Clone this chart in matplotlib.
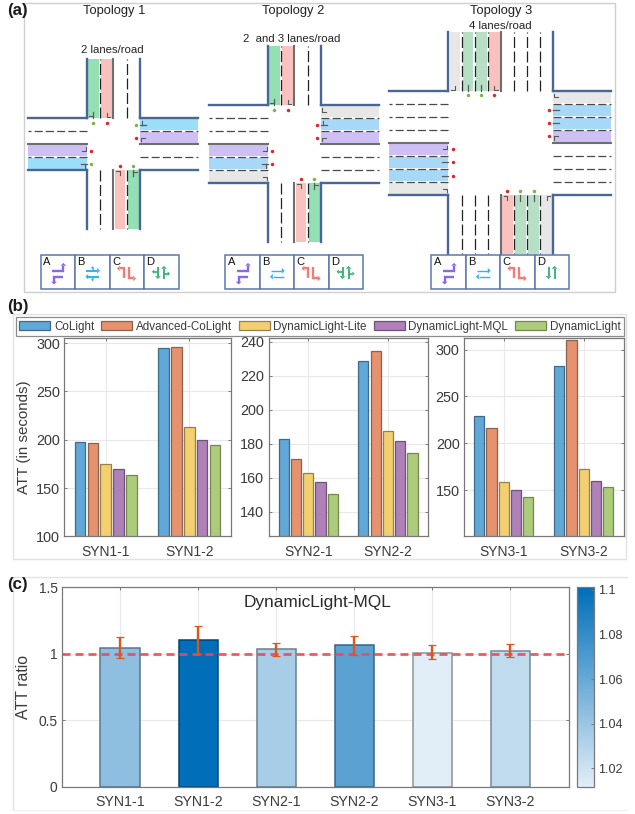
import matplotlib
matplotlib.use("Agg")
import matplotlib.pyplot as plt
from matplotlib.patches import Polygon, Rectangle, Patch
from matplotlib.colors import LinearSegmentedColormap, Normalize
from matplotlib.cm import ScalarMappable
import numpy as np

plt.rcParams['font.family'] = ['Liberation Sans', 'DejaVu Sans']
plt.rcParams['lines.scale_dashes'] = False

W, H = 635, 814

# ---- data: panel (b)
methods = ['CoLight', 'Advanced-CoLight', 'DynamicLight-Lite', 'DynamicLight-MQL', 'DynamicLight']
method_colors = ['#60A8D8', '#E6926E', '#F4CF70', '#B080B8', '#ACCC7C']
method_edges = ['#3F6A88', '#8A6350', '#94804E', '#6E5378', '#75874F']
syn1_labels = ['SYN1-1', 'SYN1-2']
syn1_vals = [[198, 294.5], [197, 296], [175, 213], [170, 200], [163.5, 195]]
syn1_ylim = (100, 305)
syn1_ticks = [100, 150, 200, 250, 300]
syn2_labels = ['SYN2-1', 'SYN2-2']
syn2_vals = [[182.5, 228.4], [171, 234.5], [162.5, 187.6], [157.2, 181.4], [150.4, 174.5]]
syn2_ylim = (125.5, 242)
syn2_ticks = [140, 160, 180, 200, 220, 240]
syn3_labels = ['SYN3-1', 'SYN3-2']
syn3_vals = [[229, 283], [216.7, 310], [158.4, 172.7], [150, 159.6], [142.5, 154]]
syn3_ylim = (101, 312)
syn3_ticks = [150, 200, 250, 300]

# ---- data: panel (c)
ratio_labels = ['SYN1-1', 'SYN1-2', 'SYN2-1', 'SYN2-2', 'SYN3-1', 'SYN3-2']
ratio_vals = [1.045, 1.1025, 1.035, 1.065, 1.01, 1.025]
ratio_low = [0.9675, 1.0, 0.9875, 0.995, 0.96, 0.9775]
ratio_high = [1.125, 1.2125, 1.08, 1.1375, 1.065, 1.0725]
ratio_ref = 1.0
ratio_range = (1.0117, 1.1012)
cbar_ticks = [1.02, 1.04, 1.06, 1.08, 1.1]

# ---- schematic (a): lanes outer->median per approach
G1, G3 = '#92E0B4', '#B6DFC6'
PK = '#FAC2BE'
BL1, BL2 = '#9BDEFA', '#A8D8F8'
VI = '#CEC0F5'
GY = '#E7E7E7'
topologies = [
    dict(c=(113.3, 144.0), hwv=26.7, hwh=26.0, L=59,
         vlanes=[('g', G1), ('p', PK)], hlanes=[('B', BL1), ('v', VI)], branch=True),
    dict(c=(294.3, 144.2), hwv=26.7, hwh=39.0, L=59,
         vlanes=[('g', G1), ('p', PK)], hlanes=[('x', GY), ('b', BL2), ('v', VI)], branch=True),
    dict(c=(500.8, 142.9), hwv=52.4, hwh=52.2, L=59,
         vlanes=[('x', GY), ('g', G3), ('g', G3), ('p', PK)],
         hlanes=[('x', GY), ('b', BL2), ('b', BL2), ('v', VI)], branch=False),
]
phase_x0 = [40.7, 225.3, 431.3]
phase_names = ['A', 'B', 'C', 'D']

px = 0.72  # points per pixel at dpi 100
fig = plt.figure(figsize=(W / 100, H / 100), dpi=100)


def axpx(l, t, r, b):
    return fig.add_axes([l / W, 1 - b / H, (r - l) / W, (b - t) / H])


ov = fig.add_axes([0, 0, 1, 1], zorder=0)
ov.set_xlim(0, W)
ov.set_ylim(H, 0)
ov.axis('off')

# panel frames
ov.add_patch(Rectangle((24, 2.7), 591, 289, fc='none', ec='#CFCFCF', lw=1))
ov.add_patch(Rectangle((13.3, 314), 612.7, 245, fc='none', ec='#E2E2E2', lw=1))
ov.plot([13.3, 13.3, 627], [810, 577.3, 577.3], color='#E2E2E2', lw=1)
ov.plot([13.3, 627], [810, 810], color='#F0F0F0', lw=1)

for s, x, y in [('(a)', 17.5, 10), ('(b)', 17.5, 306.5), ('(c)', 17.5, 584)]:
    ov.text(x, y, s, fontsize=12.2, fontweight='bold', ha='center', va='center', color='#1a1a1a', zorder=9)
for s, x, y, fs in [('Topology 1', 113.8, 11, 9.3), ('Topology 2', 293.3, 11, 9.3),
                    ('Topology 3', 500.8, 10.7, 9.3), ('2 lanes/road', 112.5, 50, 8.2),
                    ('2  and 3 lanes/road', 291.5, 39, 8.2), ('4 lanes/road', 500.7, 26, 8.2)]:
    ov.text(x, y, s, fontsize=fs, ha='center', va='center', color='#222222')


def mapper(cx, cy, k):
    if k == 0:
        return lambda u, v: (cx + u, cy - v)
    if k == 1:
        return lambda u, v: (cx - v, cy - u)
    if k == 2:
        return lambda u, v: (cx - u, cy + v)
    return lambda u, v: (cx + v, cy + u)


def pl(T, pts, **kw):
    xy = np.array([T(u, v) for u, v in pts])
    ov.plot(xy[:, 0], xy[:, 1], **kw)


def approach(cx, cy, k, hw, v0, L, lanes, branch):
    T = mapper(cx, cy, k)
    n = len(lanes)
    w = hw / n
    vertical = k in (0, 2)
    dash_col = '#222222' if vertical else '#484848'
    dash = (0, (11 * px, 3.5 * px)) if vertical else (0, (8 * px, 3.2 * px))
    for i, (kind, col) in enumerate(lanes):
        u0 = -hw + i * w
        ov.add_patch(Polygon([T(u0 + 1.2, v0), T(u0 + w - 1.2, v0), T(u0 + w - 1.2, v0 + L), T(u0 + 1.2, v0 + L)],
                             fc=col, ec='none', lw=0, zorder=1))
    for i in range(1, n):
        pl(T, [(-hw + i * w, v0), (-hw + i * w, v0 + L)], color=dash_col, lw=0.9, ls=dash, zorder=2)
        pl(T, [(i * w, v0), (i * w, v0 + L)], color=dash_col, lw=0.9, ls=dash, zorder=2)
    pl(T, [(0, v0), (0, v0 + L)], color='#6E6E6E', lw=1.5, zorder=2)
    for s in (-1, 1):
        pl(T, [(s * hw, v0), (s * hw, v0 + L)], color='#4A6699', lw=1.7, zorder=3,
           solid_capstyle='projecting')
    # stop-line glyphs and signal dots
    for i, (kind, col) in enumerate(lanes):
        uc = -hw + (i + 0.5) * w
        gc = '#5A5A5A'
        if kind == 'x':
            pl(T, [(uc, v0 + 5), (uc, v0 + 1), (uc - 3.5, v0 + 1)], color=gc, lw=0.8, zorder=4)
            continue
        if kind in ('p', 'v'):
            pl(T, [(uc, v0 + 5), (uc, v0 + 1), (uc + 3.5, v0 + 1)], color=gc, lw=0.8, zorder=4)
        else:
            pl(T, [(uc, v0 + 6), (uc, v0)], color=gc, lw=0.9, zorder=4)
            if branch:
                pl(T, [(uc, v0 + 2), (uc - 4, v0 + 2)], color=gc, lw=0.8, zorder=4)
        dot = '#7CB342' if kind in ('g', 'B') else '#E8202A'
        x, y = T(uc, v0 - 4.5)
        ov.plot([x], [y], marker='o', ms=2.5, color=dot, mew=0, zorder=4)


for t in topologies:
    cx, cy = t['c']
    approach(cx, cy, 0, t['hwv'], t['hwh'], t['L'], t['vlanes'], t['branch'])
    approach(cx, cy, 2, t['hwv'], t['hwh'], t['L'], t['vlanes'], t['branch'])
    approach(cx, cy, 1, t['hwh'], t['hwv'], t['L'], t['hlanes'], t['branch'])
    approach(cx, cy, 3, t['hwh'], t['hwv'], t['L'] - 1, t['hlanes'], t['branch'])


def arrow(x0, y0, pts, col, lw=1.5, head=3.5):
    p = np.array(pts, float) + [x0, y0]
    ov.plot(p[:, 0], p[:, 1], color=col, lw=lw, zorder=8, solid_joinstyle='miter', solid_capstyle='butt')
    d = p[-1] - p[-2]
    d = d / np.hypot(*d)
    n = np.array([-d[1], d[0]])
    tip = p[-1] + d * head * 0.8
    ov.add_patch(Polygon([tip, p[-1] + n * head * 0.8, p[-1] - n * head * 0.8], fc=col, ec='none', zorder=8))


CELL_W, CELL_H, CELL_T = 34.5, 34.6, 254.7
PURPLE, CYAN, SALMON, GREEN = '#8A66F0', '#2FB2F5', '#F47C78', '#33B06E'
for idx, x0 in enumerate(phase_x0):
    for j, nm in enumerate(phase_names):
        xc = x0 + j * CELL_W
        ov.add_patch(Rectangle((xc, CELL_T), CELL_W, CELL_H, fc='white', ec='#5C78AC', lw=1.1, zorder=7))
        ov.text(xc + 2.2, CELL_T + 7.5, nm, fontsize=8, ha='left', va='center', color='#111111', zorder=8)
    arrow(x0, CELL_T, [(11.7, 16), (22.7, 16), (22.7, 11)], PURPLE, lw=1.7)
    arrow(x0, CELL_T, [(22.7, 22.7), (13.3, 22.7), (13.3, 27)], PURPLE, lw=1.7)
    xb = x0 + CELL_W
    arrow(xb, CELL_T, [(11, 16), (22, 16)], CYAN, lw=1.4 if idx == 0 else 1.0)
    arrow(xb, CELL_T, [(24, 22), (13, 22)], CYAN, lw=1.4 if idx == 0 else 1.0)
    if idx == 0:
        arrow(xb, CELL_T, [(17.3, 16), (17.3, 13.5)], CYAN, lw=1.1, head=2.4)
        arrow(xb, CELL_T, [(17.3, 22), (17.3, 24.5)], CYAN, lw=1.1, head=2.4)
    xc = x0 + 2 * CELL_W
    arrow(xc, CELL_T, [(14, 23.7), (14, 13.7), (10, 13.7)], SALMON, lw=1.7)
    arrow(xc, CELL_T, [(19, 12), (19, 23.7), (23.5, 23.7)], SALMON, lw=1.7)
    xd = x0 + 3 * CELL_W
    arrow(xd, CELL_T, [(13.7, 12), (13.7, 21.5)], GREEN, lw=1.3)
    arrow(xd, CELL_T, [(19.7, 24), (19.7, 14)], GREEN, lw=1.3)
    if idx < 2:
        arrow(xd, CELL_T, [(13.7, 17), (10, 17)], GREEN, lw=1.2, head=2.8)
        arrow(xd, CELL_T, [(19.7, 19), (23.5, 19)], GREEN, lw=1.2, head=2.8)

TXT = '#3A3A3A'
SP = '#787878'


def style(ax, tsize):
    for s in ax.spines.values():
        s.set_color(SP)
        s.set_linewidth(0.9)
    ax.tick_params(direction='in', length=2.4, width=0.7, color=SP, top=True, right=True,
                   labelsize=tsize, labelcolor=TXT, pad=3)
    ax.grid(True, color='#E8E8E8', lw=0.8)
    ax.set_axisbelow(True)


def grouped(box, labels, vals, ylim, ticks):
    ax = axpx(*box)
    x = np.arange(1, len(labels) + 1)
    step, bw = 0.154, 0.128
    for i, series in enumerate(vals):
        ax.bar(x + (i - 2) * step, series, bw, color=method_colors[i], edgecolor=method_edges[i], linewidth=0.9)
    ax.set_xlim(0.5, 2.5)
    ax.set_ylim(*ylim)
    ax.set_xticks(x, labels)
    ax.set_yticks(ticks)
    style(ax, 10.4)
    ax.tick_params(axis='x', labelsize=10, pad=6)
    return ax


a1 = grouped((64, 338.3, 231, 536.3), syn1_labels, syn1_vals, syn1_ylim, syn1_ticks)
a2 = grouped((268.5, 338.3, 427.7, 536.3), syn2_labels, syn2_vals, syn2_ylim, syn2_ticks)
a3 = grouped((463.7, 338.3, 623.7, 536.3), syn3_labels, syn3_vals, syn3_ylim, syn3_ticks)
a1.set_ylabel('ATT (in seconds)', fontsize=10.9, color=TXT, va='center')
a1.yaxis.set_label_coords((24 - 64) / 167, 0.5)

handles = [Patch(facecolor=c, edgecolor=e, linewidth=0.9, label=m)
           for c, e, m in zip(method_colors, method_edges, methods)]
leg = fig.legend(handles=handles, ncols=5, loc='center', bbox_to_anchor=(320 / W, 1 - 326.7 / H),
                 bbox_transform=fig.transFigure, fontsize=8.4, frameon=True, fancybox=False,
                 edgecolor='#8C8C8C', framealpha=1, handlelength=2.66, handleheight=0.83,
                 handletextpad=0.3, columnspacing=0.6, borderpad=0.3, borderaxespad=0)
leg.get_frame().set_linewidth(0.9)
for tx in leg.get_texts():
    tx.set_color(TXT)

# panel (c)
cmap = LinearSegmentedColormap.from_list('att', ['#E2EEF7', '#006EB9'])
norm = Normalize(*ratio_range)
ac = axpx(61.7, 587.3, 569.3, 787)
xs = np.arange(1, len(ratio_vals) + 1)
vals = np.array(ratio_vals)
faces = cmap(norm(vals))
edges = faces.copy()
edges[:, :3] *= 0.62
ac.bar(xs, vals, 0.5, color=faces, edgecolor=edges, linewidth=1.1, zorder=2)
ac.axhline(ratio_ref, color='#F9454B', lw=2.0, alpha=0.9, ls=(0, (8 * px, 5 * px)), zorder=3)
ac.errorbar(xs, vals, yerr=[vals - np.array(ratio_low), np.array(ratio_high) - vals], fmt='none',
            ecolor='#E2541E', elinewidth=1.7, capsize=2.8, capthick=0.9, zorder=4)
ac.set_xlim(0.253, 6.756)
ac.set_ylim(0, 1.5)
ac.set_xticks(xs, ratio_labels)
ac.set_yticks([0, 0.5, 1, 1.5], ['0', '0.5', '1', '1.5'])
style(ac, 9.9)
ac.tick_params(axis='x', labelsize=10.2, pad=6)
ac.set_ylabel('ATT ratio', fontsize=11.4, color=TXT, va='center')
ac.yaxis.set_label_coords((23 - 61.7) / 507.6, 0.5)
ac.text((318 - 61.7) / 507.6, (787 - 603) / 199.7, 'DynamicLight-MQL', transform=ac.transAxes,
        fontsize=12.4, ha='center', va='center', color='#2A2A2A', zorder=5)

cax = axpx(577.3, 587.3, 594.3, 787)
cb = fig.colorbar(ScalarMappable(norm=norm, cmap=cmap), cax=cax, ticks=cbar_ticks)
cb.set_ticklabels(['1.02', '1.04', '1.06', '1.08', '1.1'])
cb.outline.set_edgecolor(SP)
cb.outline.set_linewidth(0.9)
cax.tick_params(direction='in', length=2, width=0.7, color=SP, labelsize=9.1, labelcolor=TXT, pad=3)

fig.savefig('out.png', dpi=100)
